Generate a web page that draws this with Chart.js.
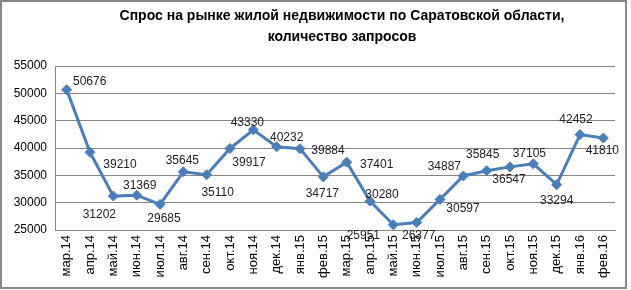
<!DOCTYPE html>
<html>
<head>
<meta charset="utf-8">
<script src="https://cdn.jsdelivr.net/npm/chart.js@4.4.1/dist/chart.umd.min.js"></script>
<style>
  html, body { margin: 0; padding: 0; background: #fff; }
  #wrap { width: 631px; height: 290px; }
</style>
</head>
<body>
<div id="wrap"><canvas id="demandChart" width="631" height="290"></canvas></div>
<script>
// months (labels on the x axis)
const months = ['мар.14', 'апр.14', 'май.14', 'июн.14', 'июл.14', 'авг.14', 'сен.14', 'окт.14',
  'ноя.14', 'дек.14', 'янв.15', 'фев.15', 'мар.15', 'апр.15', 'май.15', 'июн.15', 'июл.15',
  'авг.15', 'сен.15', 'окт.15', 'ноя.15', 'дек.15', 'янв.16', 'фев.16'];

// number of requests per month
const requests = [50676, 39210, 31202, 31369, 29685, 35645, 35110, 39917, 43330, 40232, 39884,
  34717, 37401, 30280, 25951, 26377, 30597, 34887, 35845, 36547, 37105, 33294, 42452, 41810];

const yTicks = [25000, 30000, 35000, 40000, 45000, 50000, 55000];

const titleLines = ['Спрос на рынке жилой недвижимости по Саратовской области,', 'количество запросов'];

// where each value label sits relative to its point (dx, dy of label centre)
const labelShift = [
  [23, -8], [30, 12], [-14, 19], [3, -9], [4, 14], [-1, -11], [11, 18], [19, 14],
  [-6, -7], [10, -9], [28, 2], [-1, 17], [30, 2], [12, -6], [-30, 11], [2, 13],
  [23, 9], [-19, -9], [-4, -16], [-1, 13], [-4, -10], [0, 16], [-4, -15], [-1, 13]
];

const blue = '#4a7ebb';
const font = "'Liberation Sans', Arial, sans-serif";

// title + outer frame + value labels
const extras = {
  id: 'extras',
  afterDraw(chart) {
    const c = chart.ctx;
    c.save();
    c.strokeStyle = '#878787';
    c.lineWidth = 2;
    c.strokeRect(1, 1, 625, 287);

    c.fillStyle = '#000';
    c.textAlign = 'center';
    c.textBaseline = 'middle';
    c.font = 'bold 14px ' + font;
    c.fillText(titleLines[0], 342, 16);
    c.fillText(titleLines[1], 342, 37);

    c.font = '12px ' + font;
    c.fillStyle = '#222';
    const pts = chart.getDatasetMeta(0).data;
    pts.forEach((p, i) => {
      const s = labelShift[i];
      c.fillText(String(requests[i]), p.x + s[0], p.y + s[1]);
    });
    c.restore();
  }
};

const ctx = document.getElementById('demandChart').getContext('2d');
const demandChart = new Chart(ctx, {
  type: 'line',
  data: {
    labels: months,
    datasets: [{
      data: requests,
      borderColor: blue,
      backgroundColor: blue,
      borderWidth: 3,
      pointStyle: 'rectRot',
      pointRadius: 5,
      pointBorderWidth: 1,
      tension: 0,
      fill: false
    }]
  },
  options: {
    responsive: false,
    animation: false,
    layout: { padding: { top: 66, left: 4, right: 16, bottom: 0 } },
    plugins: {
      legend: { display: false },
      tooltip: { enabled: false }
    },
    scales: {
      x: {
        offset: true,
        grid: { display: false, drawTicks: false },
        border: { color: '#868686' },
        ticks: {
          minRotation: 90, maxRotation: 90, autoSkip: false, padding: 5,
          color: '#000', font: { family: font, size: 13 }
        },
        afterFit(scale) { scale.height = 60; }
      },
      y: {
        min: 25000, max: 55000,
        afterBuildTicks(scale) { scale.ticks = yTicks.map(v => ({ value: v })); },
        grid: { color: '#868686', drawTicks: false },
        border: { color: '#868686' },
        ticks: {
          padding: 8, color: '#000', font: { family: font, size: 12 },
          callback: v => String(v)
        },
        afterFit(scale) { scale.width = 51; }
      }
    }
  },
  plugins: [extras]
});
</script>
</body>
</html>
